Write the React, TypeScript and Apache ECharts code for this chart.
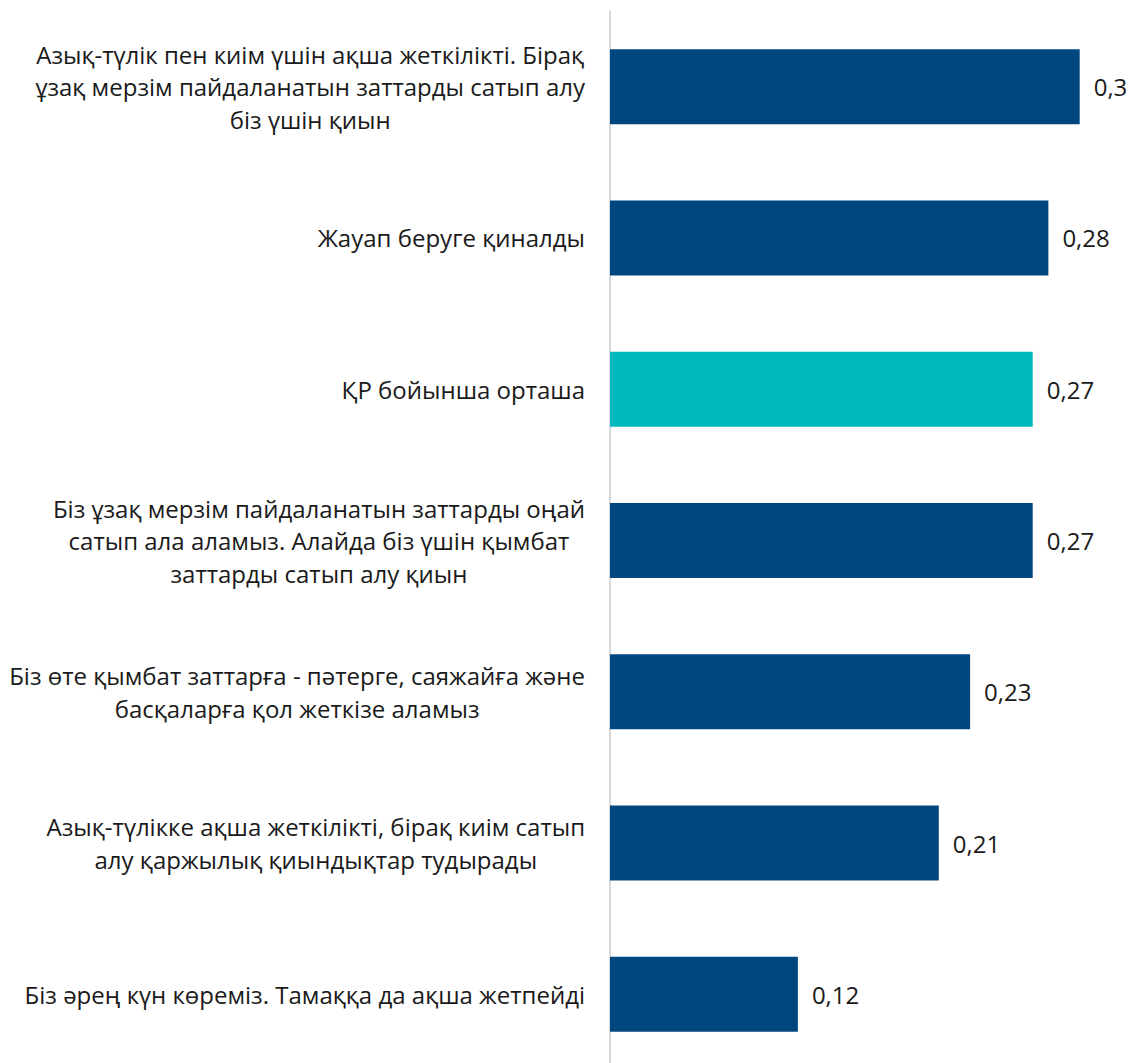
import React, { useEffect, useRef } from "react";
import * as echarts from "echarts";

const categories: string[] = [
  "Азық-түлік пен киім үшін ақша жеткілікті. Бірақ\nұзақ мерзім пайдаланатын заттарды сатып алу\nбіз үшін қиын",
  "Жауап беруге қиналды",
  "ҚР бойынша орташа",
  "Біз ұзақ мерзім пайдаланатын заттарды оңай\nсатып ала аламыз. Алайда біз үшін қымбат\nзаттарды сатып алу қиын",
  "Біз өте қымбат заттарға - пәтерге, саяжайға және\nбасқаларға қол жеткізе аламыз",
  "Азық-түлікке ақша жеткілікті, бірақ киім сатып\nалу қаржылық қиындықтар тудырады",
  "Біз әрең күн көреміз. Тамаққа да ақша жетпейді",
];

const values: number[] = [0.3, 0.28, 0.27, 0.27, 0.23, 0.21, 0.12];

const highlightCategory = "ҚР бойынша орташа";

const DARK = "#00467F";
const TEAL = "#00B8BE";

export default function App() {
  const ref = useRef<HTMLDivElement>(null);

  useEffect(() => {
    document.body.style.margin = "0";
    document.body.style.overflow = "hidden";
    if (!ref.current) return;
    const chart = echarts.init(ref.current, undefined, { renderer: "svg" });
    const font = "'Open Sans', 'Noto Sans', sans-serif";
    chart.setOption({
      animation: false,
      backgroundColor: "#ffffff",
      grid: { left: 610, right: 21, top: 11, bottom: 0, containLabel: false },
      xAxis: {
        type: "value",
        min: 0,
        max: 0.32,
        show: false,
      },
      yAxis: {
        type: "category",
        data: categories,
        inverse: true,
        axisLine: { show: true, lineStyle: { color: "#d9d9d9", width: 2 } },
        axisTick: { show: false },
        splitLine: { show: false },
        axisLabel: {
          margin: 25,
          align: "right",
          color: "#1a1a1a",
          fontFamily: font,
          fontSize: 24,
          lineHeight: 32.5,
          formatter: (v: string) =>
            v
              .split("\n")
              .map((l) => `{c|${l}}`)
              .join("\n"),
          rich: {
            c: {
              align: "center",
              color: "#1a1a1a",
              fontFamily: font,
              fontSize: 24,
              lineHeight: 32.5,
            },
          },
        },
      },
      series: [
        {
          type: "bar",
          barWidth: 75,
          data: values.map((v, i) => ({
            value: v,
            itemStyle: { color: categories[i] === highlightCategory ? TEAL : DARK },
          })),
          label: {
            show: true,
            position: "right",
            distance: 14,
            color: "#1a1a1a",
            fontFamily: font,
            fontSize: 24,
            formatter: (p: any) => String(p.value).replace(".", ","),
          },
        },
      ],
    });
    return () => chart.dispose();
  }, []);

  return <div ref={ref} style={{ width: 1132, height: 1070 }} />;
}
